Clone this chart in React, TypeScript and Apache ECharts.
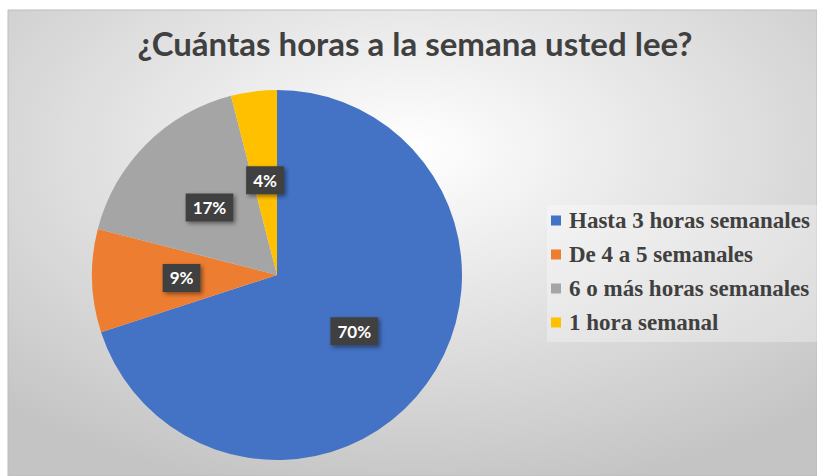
import React, { useEffect, useRef } from "react";
import * as echarts from "echarts";

const categories = [
  "Hasta 3 horas semanales",
  "De 4 a 5 semanales",
  "6 o más horas semanales",
  "1 hora semanal",
];
const values = [70, 9, 17, 4];
const colors = ["#4472C4", "#ED7D31", "#A5A5A5", "#FFC000"];
const titleText = "¿Cuántas horas a la semana usted lee?";

export default function App() {
  const ref = useRef<HTMLDivElement>(null);
  useEffect(() => {
    if (!ref.current) return;
    const chart = echarts.init(ref.current, null, { renderer: "svg" });
    chart.setOption({
      animation: false,
      backgroundColor: "#ffffff",
      graphic: [
        {
          type: "rect",
          z: -10,
          silent: true,
          shape: { x: 8, y: 10, width: 809, height: 466 },
          style: {
            fill: {
              type: "radial",
              x: 0.5,
              y: 0.3,
              r: 0.75,
              colorStops: [
                { offset: 0, color: "#ffffff" },
                { offset: 1, color: "#c4c4c4" },
              ],
            },
            stroke: "#bdbdbd",
            lineWidth: 1,
          },
        },
      ],
      title: {
        text: titleText,
        left: 410,
        textAlign: "center",
        top: 21,
        textStyle: {
          fontFamily: "Lato",
          fontWeight: "bold",
          fontSize: 33,
          color: "#404040",
        },
      },
      legend: {
        orient: "vertical",
        left: 547,
        top: 205,
        itemWidth: 10,
        itemHeight: 10,
        itemGap: 11,
        icon: "rect",
        padding: [4, 10, 8, 4],
        backgroundColor: "rgba(255,255,255,0.3)",
        textStyle: {
          fontFamily: "Liberation Serif",
          fontWeight: "bold",
          fontSize: 23,
          color: "#404040",
          padding: [0, 0, 0, 3],
        },
        data: categories,
      },
      series: [
        {
          type: "pie",
          center: [277, 275],
          radius: [0, 185],
          startAngle: 90,
          clockwise: true,
          data: categories.map((c, i) => ({
            name: c,
            value: values[i],
            itemStyle: { color: colors[i] },
          })),
          label: {
            position: "inside",
            formatter: "{d}%",
            fontFamily: "Lato",
            fontWeight: "bold",
            fontSize: 17,
            color: "#ffffff",
            backgroundColor: "#404040",
            padding: [6, 7, 5, 7],
            shadowColor: "rgba(0,0,0,0.45)",
            shadowBlur: 4,
            shadowOffsetX: 2,
            shadowOffsetY: 2,
          },
          labelLine: { show: false },
          emphasis: { disabled: true },
        },
      ],
    });
    return () => chart.dispose();
  }, []);
  return (
    <div
      ref={ref}
      style={{ position: "absolute", left: 0, top: 0, width: 817, height: 476 }}
    />
  );
}
